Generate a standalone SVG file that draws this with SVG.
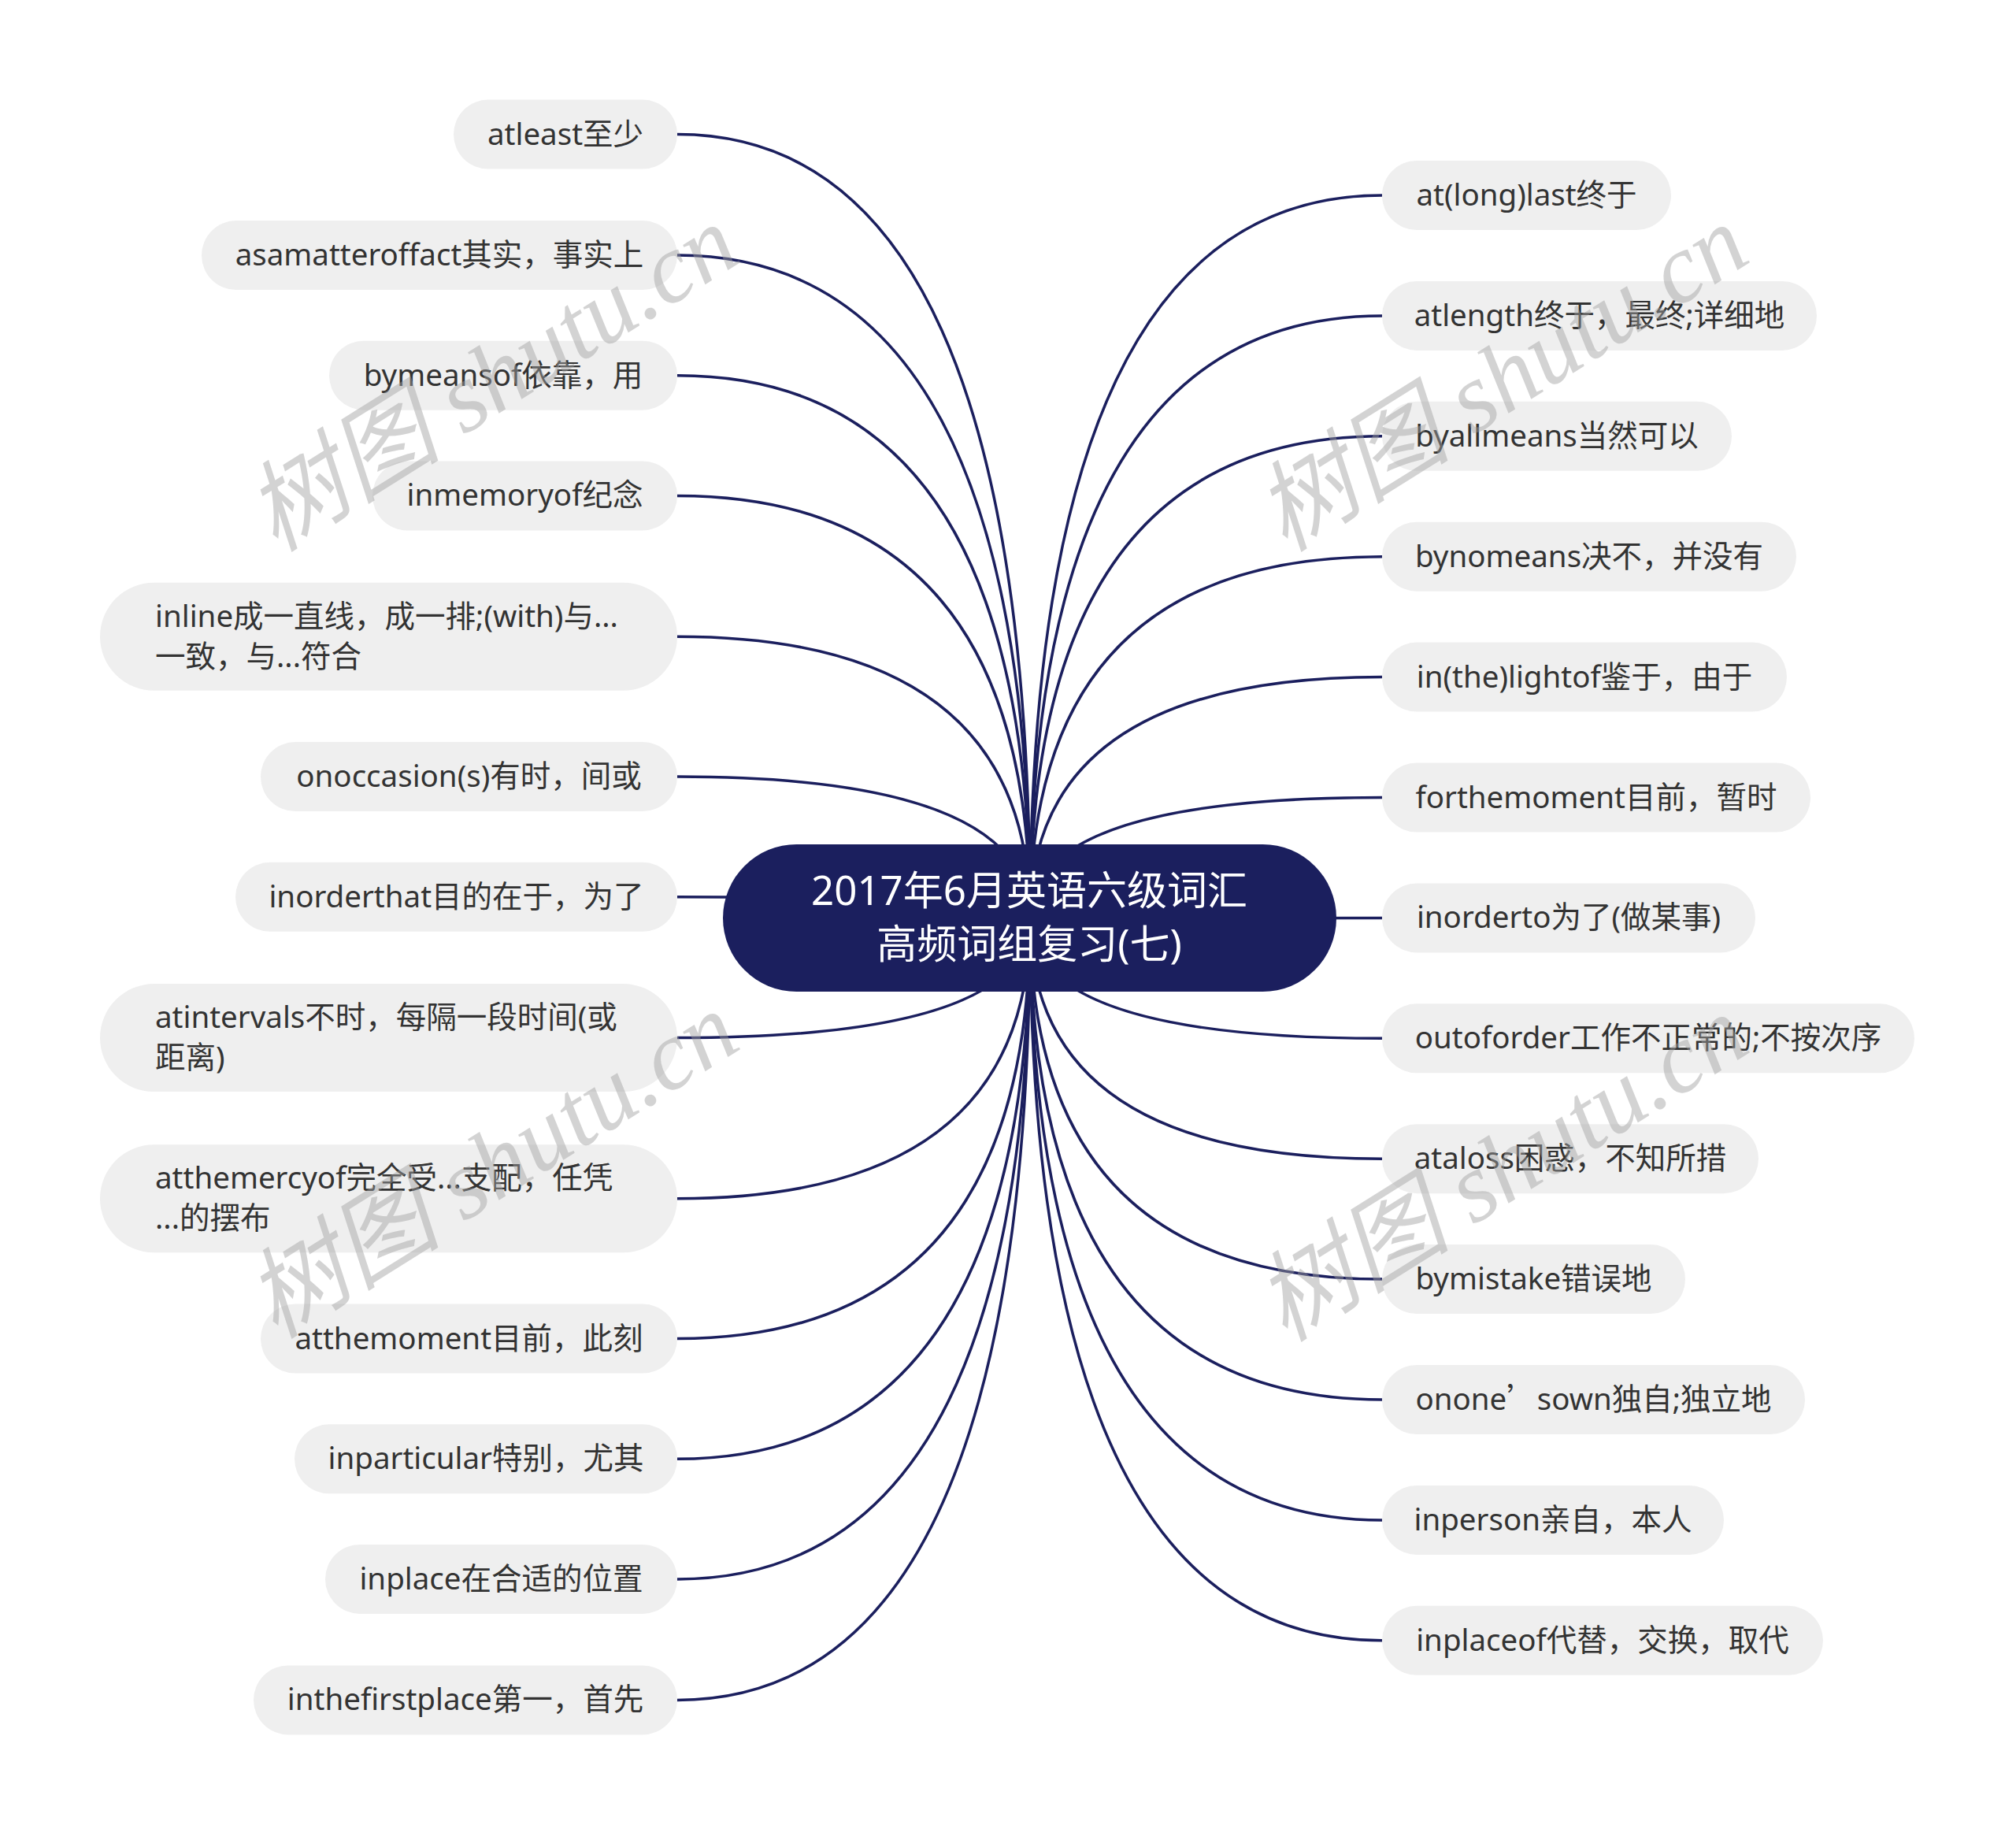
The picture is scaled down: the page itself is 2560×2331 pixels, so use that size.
<svg xmlns="http://www.w3.org/2000/svg" width="2560" height="2331" viewBox="0 0 2560 2331">
<style>
.n rect{fill:#efefef}
.n text{font-family:"Noto Sans","Noto Sans CJK SC",sans-serif;font-size:38.5px;fill:#333333}
.c path{fill:none;stroke:#1b1f5e;stroke-width:3.5}
.root rect{fill:#1b1f5e}
.root text{font-family:"Noto Sans","Noto Sans CJK SC",sans-serif;font-size:51px;fill:#ffffff;text-anchor:middle}
.q{font-family:"Noto Sans CJK SC",sans-serif}
.wm{font-family:"Liberation Serif","Noto Sans CJK SC",serif;font-style:italic;font-size:125px;fill:#a0a0a0;opacity:0.45}
</style>
<rect width="2560" height="2331" fill="#ffffff"/>
<g class="c" id="connectors">
<path d="M1308,1166 Q1308,170.6 860,170.6"/>
<path d="M1308,1166 Q1308,324.1 860,324.1"/>
<path d="M1308,1166 Q1308,476.7 860,476.7"/>
<path d="M1308,1166 Q1308,629.4 860,629.4"/>
<path d="M1308,1166 Q1308,808.2 860,808.2"/>
<path d="M1308,1166 Q1308,986.1 860,986.1"/>
<path d="M1308,1166 Q1308,1138.8 860,1138.8"/>
<path d="M1308,1166 Q1308,1317.6 860,1317.6"/>
<path d="M1308,1166 Q1308,1521.7 860,1521.7"/>
<path d="M1308,1166 Q1308,1699.6 860,1699.6"/>
<path d="M1308,1166 Q1308,1852.3 860,1852.3"/>
<path d="M1308,1166 Q1308,2004.9 860,2004.9"/>
<path d="M1308,1166 Q1308,2158.4 860,2158.4"/>
<path d="M1308,1166 Q1308,248 1755,248"/>
<path d="M1308,1166 Q1308,400.9 1755,400.9"/>
<path d="M1308,1166 Q1308,553.8 1755,553.8"/>
<path d="M1308,1166 Q1308,706.7 1755,706.7"/>
<path d="M1308,1166 Q1308,859.6 1755,859.6"/>
<path d="M1308,1166 Q1308,1012.5 1755,1012.5"/>
<path d="M1308,1166 Q1308,1165.4 1755,1165.4"/>
<path d="M1308,1166 Q1308,1318.3 1755,1318.3"/>
<path d="M1308,1166 Q1308,1471.2 1755,1471.2"/>
<path d="M1308,1166 Q1308,1624.1 1755,1624.1"/>
<path d="M1308,1166 Q1308,1777 1755,1777"/>
<path d="M1308,1166 Q1308,1929.9 1755,1929.9"/>
<path d="M1308,1166 Q1308,2082.8 1755,2082.8"/>
</g>
<g class="root" id="root">
<rect x="918" y="1072" width="779" height="187" rx="93.5"/>
<text x="1307" y="1149">2017年6月英语六级词汇</text>
<text x="1307" y="1217">高频词组复习(七)</text>
</g>
<g class="n" id="L1"><rect x="576" y="126.6" width="284" height="88" rx="44"/><text x="718" y="183.6" text-anchor="middle">atleast至少</text></g>
<g class="n" id="L2"><rect x="256" y="280.1" width="604" height="88" rx="44"/><text x="558" y="337.1" text-anchor="middle">asamatteroffact其实，事实上</text></g>
<g class="n" id="L3"><rect x="418" y="432.7" width="442" height="88" rx="44"/><text x="639" y="489.7" text-anchor="middle">bymeansof依靠，用</text></g>
<g class="n" id="L4"><rect x="473" y="585.4" width="387" height="88" rx="44"/><text x="666.5" y="642.4" text-anchor="middle">inmemoryof纪念</text></g>
<g class="n" id="L5"><rect x="127" y="739.7" width="733" height="137" rx="68.5"/><text x="197" y="795.7">inline成一直线，成一排;(with)与...</text><text x="197" y="846.7">一致，与...符合</text></g>
<g class="n" id="L6"><rect x="331" y="942.1" width="529" height="88" rx="44"/><text x="595.5" y="999.1" text-anchor="middle">onoccasion(s)有时，间或</text></g>
<g class="n" id="L7"><rect x="299" y="1094.8" width="561" height="88" rx="44"/><text x="579.5" y="1151.8" text-anchor="middle">inorderthat目的在于，为了</text></g>
<g class="n" id="L8"><rect x="127" y="1249.1" width="733" height="137" rx="68.5"/><text x="197" y="1305.1">atintervals不时，每隔一段时间(或</text><text x="197" y="1356.1">距离)</text></g>
<g class="n" id="L9"><rect x="127" y="1453.2" width="733" height="137" rx="68.5"/><text x="197" y="1509.2">atthemercyof完全受...支配，任凭</text><text x="197" y="1560.2">...的摆布</text></g>
<g class="n" id="L10"><rect x="331" y="1655.6" width="529" height="88" rx="44"/><text x="595.5" y="1712.6" text-anchor="middle">atthemoment目前，此刻</text></g>
<g class="n" id="L11"><rect x="374" y="1808.3" width="486" height="88" rx="44"/><text x="617" y="1865.3" text-anchor="middle">inparticular特别，尤其</text></g>
<g class="n" id="L12"><rect x="413" y="1960.9" width="447" height="88" rx="44"/><text x="636.5" y="2017.9" text-anchor="middle">inplace在合适的位置</text></g>
<g class="n" id="L13"><rect x="322" y="2114.4" width="538" height="88" rx="44"/><text x="591" y="2171.4" text-anchor="middle">inthefirstplace第一，首先</text></g>
<g class="n" id="R1"><rect x="1755" y="204" width="367" height="88" rx="44"/><text x="1938.5" y="261" text-anchor="middle">at(long)last终于</text></g>
<g class="n" id="R2"><rect x="1755" y="356.9" width="552" height="88" rx="44"/><text x="2031" y="413.9" text-anchor="middle">atlength终于，最终;详细地</text></g>
<g class="n" id="R3"><rect x="1755" y="509.8" width="444" height="88" rx="44"/><text x="1977" y="566.8" text-anchor="middle">byallmeans当然可以</text></g>
<g class="n" id="R4"><rect x="1755" y="662.7" width="526" height="88" rx="44"/><text x="2018" y="719.7" text-anchor="middle">bynomeans决不，并没有</text></g>
<g class="n" id="R5"><rect x="1755" y="815.6" width="514" height="88" rx="44"/><text x="2012" y="872.6" text-anchor="middle">in(the)lightof鉴于，由于</text></g>
<g class="n" id="R6"><rect x="1755" y="968.5" width="544" height="88" rx="44"/><text x="2027" y="1025.5" text-anchor="middle">forthemoment目前，暂时</text></g>
<g class="n" id="R7"><rect x="1755" y="1121.4" width="474" height="88" rx="44"/><text x="1992" y="1178.4" text-anchor="middle">inorderto为了(做某事)</text></g>
<g class="n" id="R8"><rect x="1755" y="1274.3" width="676" height="88" rx="44"/><text x="2093" y="1331.3" text-anchor="middle">outoforder工作不正常的;不按次序</text></g>
<g class="n" id="R9"><rect x="1755" y="1427.2" width="478" height="88" rx="44"/><text x="1994" y="1484.2" text-anchor="middle">ataloss困惑，不知所措</text></g>
<g class="n" id="R10"><rect x="1755" y="1580.1" width="385" height="88" rx="44"/><text x="1947.5" y="1637.1" text-anchor="middle">bymistake错误地</text></g>
<g class="n" id="R11"><rect x="1755" y="1733" width="537" height="88" rx="44"/><text x="2023.5" y="1790" text-anchor="middle">onone<tspan class="q">’</tspan>sown独自;独立地</text></g>
<g class="n" id="R12"><rect x="1755" y="1885.9" width="434" height="88" rx="44"/><text x="1972" y="1942.9" text-anchor="middle">inperson亲自，本人</text></g>
<g class="n" id="R13"><rect x="1755" y="2038.8" width="560" height="88" rx="44"/><text x="2035" y="2095.8" text-anchor="middle">inplaceof代替，交换，取代</text></g>
<g id="watermarks">
<text class="wm" transform="translate(350,702) rotate(-32)">树图 shutu.cn</text>
<text class="wm" transform="translate(350,1701) rotate(-32)">树图 shutu.cn</text>
<text class="wm" transform="translate(1632,702) rotate(-32)">树图 shutu.cn</text>
<text class="wm" transform="translate(1632,1705) rotate(-32)">树图 shutu.cn</text>
</g>
</svg>
